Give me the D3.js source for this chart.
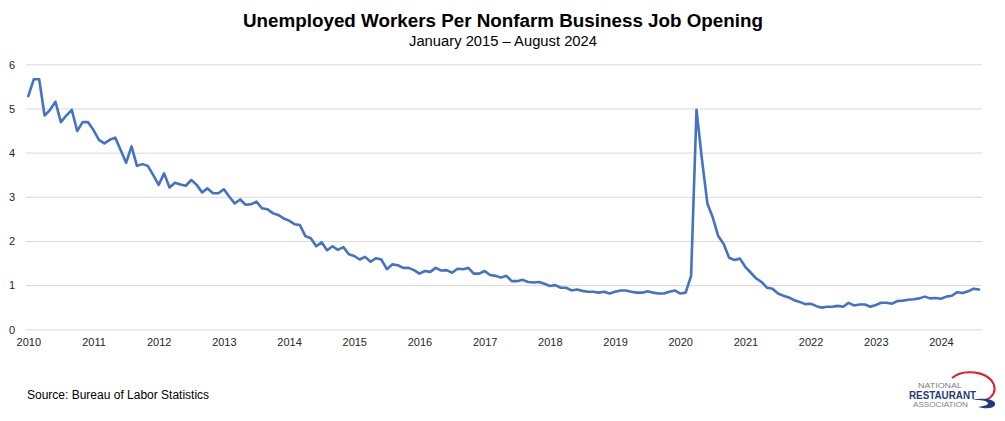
<!DOCTYPE html>
<html><head><meta charset="utf-8">
<script src="https://cdn.jsdelivr.net/npm/d3@7"></script>
<style>
html,body{margin:0;padding:0;background:#fff;}
svg{display:block;font-family:"Liberation Sans",Arial,sans-serif;}
</style></head>
<body>
<svg id="chart" width="1005" height="421"></svg>
<script>
const title = "Unemployed Workers Per Nonfarm Business Job Opening";
const subtitle = "January 2015 \u2013 August 2024";
const source = "Source: Bureau of Labor Statistics";
const yearLabels = ["2010","2011","2012","2013","2014","2015","2016","2017","2018","2019","2020","2021","2022","2023","2024"];
const yTicks = [0,1,2,3,4,5,6];
// monthly values Jan 2010 .. Aug 2024
const ratio2010 = [5.28,5.66,5.66,4.84,4.97,5.15,4.69,4.84,4.97,4.49,4.69,4.69];
const ratio2011 = [4.51,4.29,4.21,4.29,4.34,4.06,3.77,4.14,3.70,3.74,3.70,3.49];
const ratio2012 = [3.27,3.53,3.21,3.32,3.28,3.25,3.38,3.27,3.10,3.19,3.08,3.08];
const ratio2013 = [3.17,3.00,2.85,2.94,2.82,2.83,2.89,2.74,2.72,2.63,2.59,2.51];
const ratio2014 = [2.46,2.38,2.36,2.11,2.06,1.88,1.97,1.79,1.88,1.80,1.86,1.70];
const ratio2015 = [1.66,1.58,1.64,1.53,1.61,1.58,1.36,1.47,1.45,1.39,1.39,1.34];
const ratio2016 = [1.26,1.32,1.30,1.39,1.33,1.34,1.28,1.37,1.36,1.39,1.26,1.26];
const ratio2017 = [1.32,1.23,1.21,1.17,1.21,1.09,1.09,1.12,1.07,1.06,1.07,1.03];
const ratio2018 = [0.98,1.00,0.94,0.94,0.88,0.90,0.87,0.85,0.85,0.83,0.85,0.81];
const ratio2019 = [0.85,0.88,0.88,0.85,0.83,0.83,0.86,0.83,0.81,0.81,0.85,0.88];
const ratio2020 = [0.81,0.83,1.21,4.97,3.85,2.85,2.53,2.11,1.93,1.62,1.57,1.60];
const ratio2021 = [1.41,1.28,1.15,1.07,0.94,0.92,0.81,0.76,0.72,0.66,0.62,0.57];
const ratio2022 = [0.58,0.53,0.49,0.51,0.51,0.53,0.51,0.60,0.54,0.56,0.56,0.51];
const ratio2023 = [0.55,0.60,0.60,0.58,0.64,0.65,0.67,0.68,0.70,0.74,0.70,0.71];
const ratio2024 = [0.69,0.74,0.76,0.84,0.82,0.86,0.92,0.90];

const values = [].concat(ratio2010,ratio2011,ratio2012,ratio2013,ratio2014,ratio2015,ratio2016,ratio2017,ratio2018,ratio2019,ratio2020,ratio2021,ratio2022,ratio2023,ratio2024);
const data = values.map((v,i)=>({i, v}));

const svg = d3.select("#chart");
const x = d3.scaleLinear().domain([0, values.length-1]).range([28.3, 979]);
const y = d3.scaleLinear().domain([0,6]).range([329.3, 64.3]);
const gridX0 = 26, gridX1 = 982;

// gridlines
const grid = svg.append("g").attr("transform",`translate(${gridX0},0)`)
  .call(d3.axisLeft(y).tickValues(yTicks).tickSize(-(gridX1-gridX0)).tickFormat(""));
grid.select(".domain").remove();
grid.selectAll("line").attr("stroke","#d9d9d9").attr("stroke-width",1);

// y labels
const ya = svg.append("g").attr("transform","translate(15,0)")
  .call(d3.axisLeft(y).tickValues(yTicks).tickSize(0).tickPadding(0).tickFormat(d3.format("d")));
ya.select(".domain").remove();
ya.selectAll("text").attr("font-size",11).attr("fill","#262626")
  .attr("font-family","'Liberation Sans',Arial,sans-serif").attr("dy","0.35em");

// x labels
const xa = svg.append("g").attr("transform","translate(0,338)")
  .call(d3.axisBottom(x).tickValues(yearLabels.map((d,k)=>k*12)).tickSize(0).tickPadding(0)
  .tickFormat((d)=>yearLabels[d/12]));
xa.select(".domain").remove();
xa.selectAll("text").attr("font-size",11).attr("fill","#262626")
  .attr("font-family","'Liberation Sans',Arial,sans-serif");

// line
svg.append("path").datum(data)
  .attr("fill","none").attr("stroke","#4472C4").attr("stroke-width",2.6)
  .attr("stroke-linejoin","round").attr("stroke-linecap","round")
  .attr("d", d3.line().x(d=>x(d.i)).y(d=>y(d.v)));

// titles
svg.append("text").attr("x",503).attr("y",27).attr("text-anchor","middle")
  .attr("font-size",18).attr("font-weight","bold").attr("fill","#000")
  .attr("textLength",520).attr("lengthAdjust","spacingAndGlyphs").text(title);
svg.append("text").attr("x",503).attr("y",46).attr("text-anchor","middle")
  .attr("font-size",14).attr("fill","#000")
  .attr("textLength",188).attr("lengthAdjust","spacingAndGlyphs").text(subtitle);

// source
svg.append("text").attr("x",27).attr("y",399).attr("font-size",12).attr("fill","#000").text(source);

// logo
const logo = svg.append("g");
logo.append("path").attr("d","M952,378 C962,369 988,370 994,385 C996,391 993,397 986,400")
  .attr("fill","none").attr("stroke","#d6212e").attr("stroke-width",2);
logo.append("path").attr("d","M972,400 C985,397 997,400 995,405 C993,409 986,409 978,407 C986,406 990,404 987,402 C984,400 978,400 972,400 Z")
  .attr("fill","#1f3b78");
logo.append("text").attr("x",940).attr("y",388).attr("text-anchor","middle").attr("font-size",8)
  .attr("fill","#7a7f8a").attr("textLength",44).attr("lengthAdjust","spacingAndGlyphs").text("NATIONAL");
logo.append("text").attr("x",942.5).attr("y",398.5).attr("text-anchor","middle").attr("font-size",11)
  .attr("font-weight","bold").attr("fill","#1f3b78").attr("textLength",67).attr("lengthAdjust","spacingAndGlyphs").text("RESTAURANT");
logo.append("text").attr("x",940.5).attr("y",407).attr("text-anchor","middle").attr("font-size",8)
  .attr("fill","#7a7f8a").attr("textLength",55).attr("lengthAdjust","spacingAndGlyphs").text("ASSOCIATION");
</script>
</body></html>
